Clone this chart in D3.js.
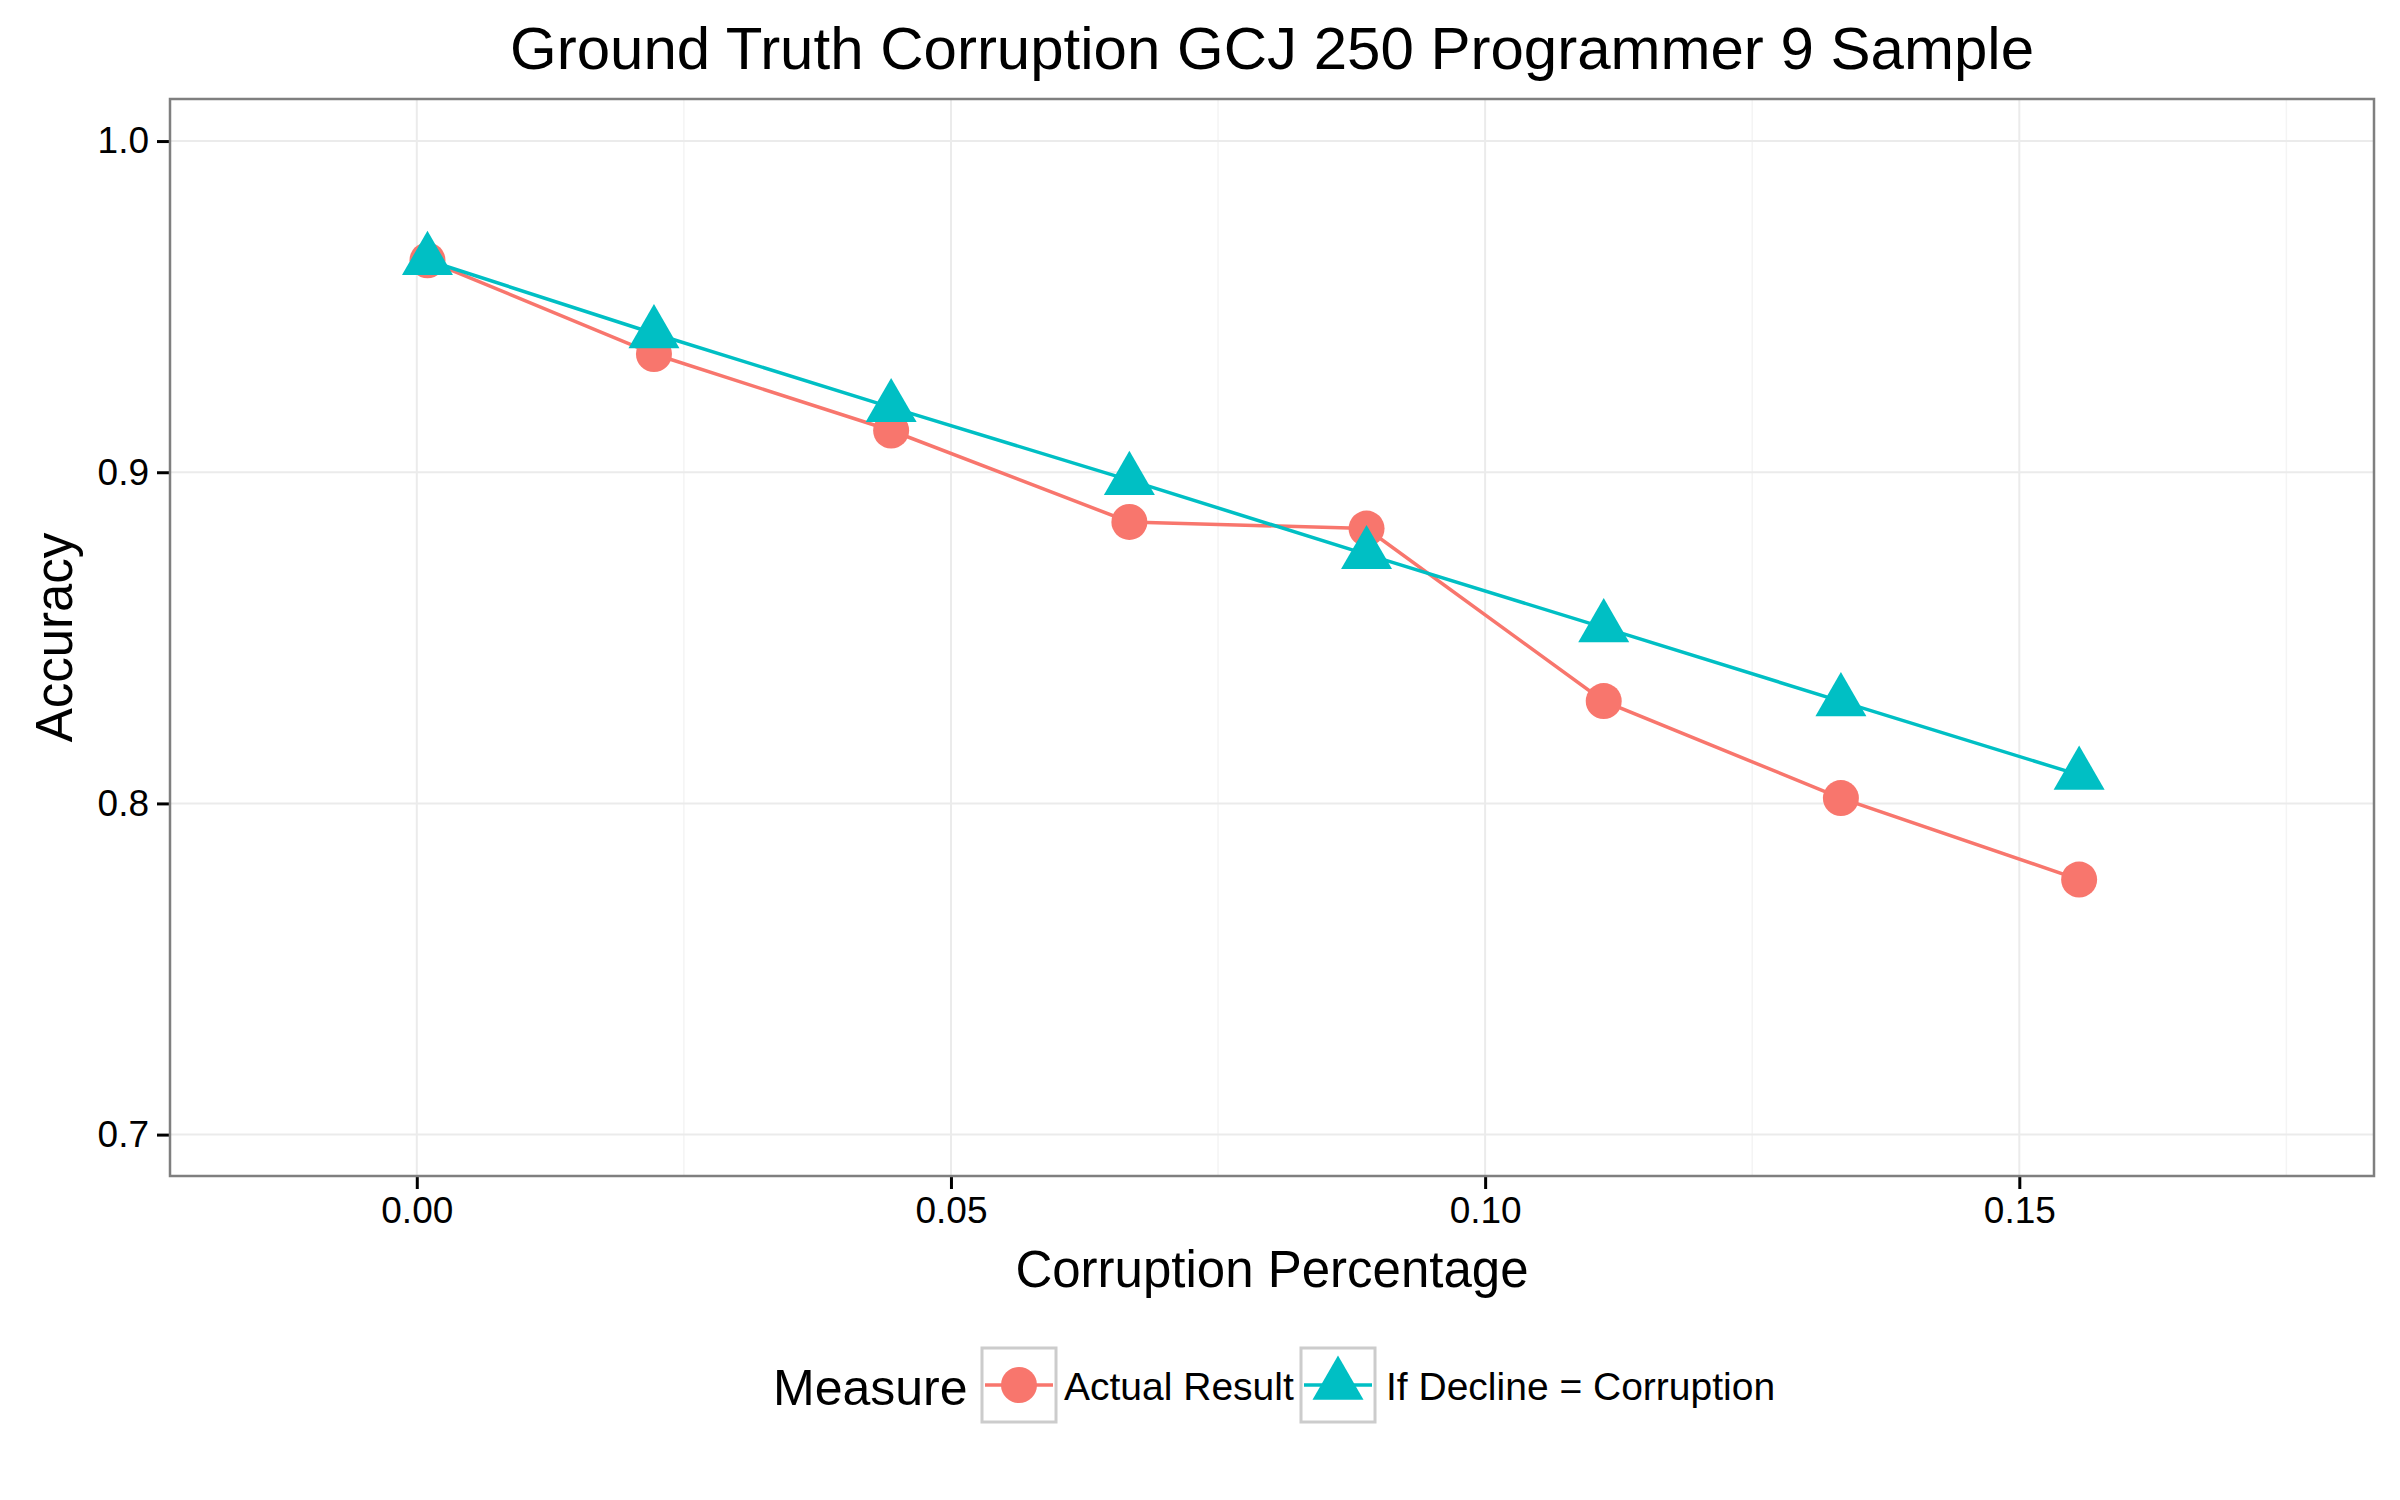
<!DOCTYPE html>
<html>
<head>
<meta charset="utf-8">
<script src="https://cdn.jsdelivr.net/npm/d3@7"></script>
<style>
  body { margin: 0; background: #fff; }
  text { font-family: "Liberation Sans", Arial, sans-serif; fill: #000; }
</style>
</head>
<body>
<div id="chart"></div>
<script>
const corruption = [0.001, 0.0222, 0.0444, 0.0667, 0.0889, 0.1111, 0.1333, 0.1556];
const actualResult = [0.964, 0.9357, 0.9126, 0.885, 0.883, 0.8309, 0.8016, 0.777];
const ifDecline = [0.964, 0.9419, 0.9196, 0.8976, 0.8752, 0.8531, 0.8308, 0.8086];
const seriesNames = ["Actual Result", "If Decline = Corruption"];
const seriesColors = ["#F8766D", "#00BFC4"];
const xTicks = [0, 0.05, 0.10, 0.15];
const xMinor = [0.025, 0.075, 0.125, 0.175];
const yTicks = [0.7, 0.8, 0.9, 1.0];

const width = 2400, height = 1500;
const panel = { left: 170, right: 2374, top: 99, bottom: 1176 };

const svg = d3.select("#chart").append("svg")
  .attr("width", width)
  .attr("height", height);

const x = d3.scaleLinear().domain([-0.0231, 0.1832]).range([panel.left, panel.right]);
const y = d3.scaleLinear().domain([0.6875, 1.0127]).range([panel.bottom, panel.top]);

// grid
svg.append("g").selectAll("line.minor")
  .data(xMinor)
  .enter().append("line")
  .attr("x1", d => x(d)).attr("x2", d => x(d))
  .attr("y1", panel.top).attr("y2", panel.bottom)
  .attr("stroke", "#F4F4F4").attr("stroke-width", 1.5);

svg.append("g").selectAll("line.xmajor")
  .data(xTicks)
  .enter().append("line")
  .attr("x1", d => x(d)).attr("x2", d => x(d))
  .attr("y1", panel.top).attr("y2", panel.bottom)
  .attr("stroke", "#EBEBEB").attr("stroke-width", 2);

svg.append("g").selectAll("line.ymajor")
  .data(yTicks)
  .enter().append("line")
  .attr("x1", panel.left).attr("x2", panel.right)
  .attr("y1", d => y(d)).attr("y2", d => y(d))
  .attr("stroke", "#EBEBEB").attr("stroke-width", 2);

// axes
const xAxis = svg.append("g")
  .attr("transform", `translate(0,${panel.bottom})`)
  .call(d3.axisBottom(x).tickValues(xTicks).tickFormat(d3.format(".2f")).tickSize(13).tickPadding(8));
const yAxis = svg.append("g")
  .attr("transform", `translate(${panel.left},0)`)
  .call(d3.axisLeft(y).tickValues(yTicks).tickFormat(d3.format(".1f")).tickSize(13).tickPadding(8));

[xAxis, yAxis].forEach(a => {
  a.select(".domain").remove();
  a.selectAll(".tick line").attr("stroke", "#000").attr("stroke-width", 3);
  a.selectAll(".tick text")
    .style("font-family", "'Liberation Sans', Arial, sans-serif")
    .style("font-size", "37px")
    .attr("fill", "#000");
});

// panel border
svg.append("rect")
  .attr("x", panel.left).attr("y", panel.top)
  .attr("width", panel.right - panel.left).attr("height", panel.bottom - panel.top)
  .attr("fill", "none").attr("stroke", "#7F7F7F").attr("stroke-width", 2.5);

// data
const series = [actualResult, ifDecline].map((vals, i) => ({
  name: seriesNames[i],
  color: seriesColors[i],
  points: vals.map((v, j) => ({ x: corruption[j], y: v }))
}));

const line = d3.line().x(d => x(d.x)).y(d => y(d.y));

svg.append("g").selectAll("path")
  .data(series)
  .enter().append("path")
  .attr("d", d => line(d.points))
  .attr("fill", "none")
  .attr("stroke", d => d.color)
  .attr("stroke-width", 3.5);

const triSide = 51, triH = triSide * Math.sqrt(3) / 2;
const triPath = `M0,${-2 * triH / 3}L${triSide / 2},${triH / 3}L${-triSide / 2},${triH / 3}Z`;

svg.append("g").selectAll("circle")
  .data(series[0].points)
  .enter().append("circle")
  .attr("cx", d => x(d.x))
  .attr("cy", d => y(d.y))
  .attr("r", 18)
  .attr("fill", seriesColors[0]);

svg.append("g").selectAll("path")
  .data(series[1].points)
  .enter().append("path")
  .attr("d", triPath)
  .attr("transform", d => `translate(${x(d.x)},${y(d.y)})`)
  .attr("fill", seriesColors[1]);

// titles
svg.append("text")
  .attr("x", (panel.left + panel.right) / 2).attr("y", 69)
  .attr("text-anchor", "middle")
  .style("font-size", "60px")
  .text("Ground Truth Corruption GCJ 250 Programmer 9 Sample");

svg.append("text")
  .attr("x", (panel.left + panel.right) / 2).attr("y", 1287)
  .attr("text-anchor", "middle")
  .style("font-size", "51px")
  .text("Corruption Percentage");

svg.append("text")
  .attr("transform", `translate(72,${(panel.top + panel.bottom) / 2}) rotate(-90)`)
  .attr("text-anchor", "middle")
  .style("font-size", "51px")
  .text("Accuracy");

// legend
const legend = svg.append("g");
legend.append("text")
  .attr("x", 773).attr("y", 1405)
  .style("font-size", "50px")
  .text("Measure");

const keyX = [982, 1301];
const labelX = [1064, 1386];
const keySize = 74, keyY = 1348;

series.forEach((s, i) => {
  const k = legend.append("g").attr("transform", `translate(${keyX[i]},${keyY})`);
  k.append("rect")
    .attr("x", 0).attr("y", 0)
    .attr("width", keySize).attr("height", keySize)
    .attr("fill", "#fff").attr("stroke", "#CCCCCC").attr("stroke-width", 3);
  k.append("line")
    .attr("x1", 3).attr("x2", keySize - 3)
    .attr("y1", keySize / 2).attr("y2", keySize / 2)
    .attr("stroke", s.color).attr("stroke-width", 3.5);
  if (i === 0) {
    k.append("circle").attr("cx", keySize / 2).attr("cy", keySize / 2).attr("r", 18).attr("fill", s.color);
  } else {
    k.append("path").attr("d", triPath)
      .attr("transform", `translate(${keySize / 2},${keySize / 2})`)
      .attr("fill", s.color);
  }
  legend.append("text")
    .attr("x", labelX[i]).attr("y", 1400)
    .style("font-size", "39px")
    .text(s.name);
});
</script>
</body>
</html>
